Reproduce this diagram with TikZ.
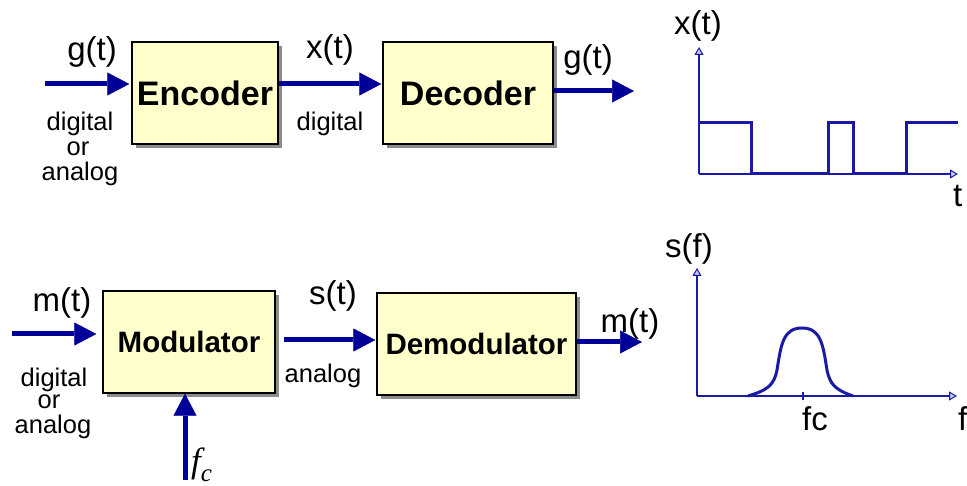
\documentclass[tikz,border=0pt]{standalone}
\usepackage{fontspec}
\setmainfont{Liberation Sans}
\newfontfamily\seriffont{Liberation Serif}
\usetikzlibrary{arrows.meta,shadows}
\definecolor{arrowblue}{RGB}{0,0,153}
\definecolor{plotblue}{RGB}{26,26,165}
\definecolor{tipfill}{RGB}{200,200,240}
\definecolor{boxfill}{RGB}{255,255,204}
\begin{document}
\begin{tikzpicture}[x=1pt,y=-1pt,
  blockbox/.style={draw=black, line width=1.4pt, fill=boxfill, inner sep=0pt,
    minimum height=102pt,
    drop shadow={shadow xshift=4pt, shadow yshift=-4pt, fill=black!45, opacity=1}},
  flow/.style={draw=arrowblue, line width=5pt,
    -{Triangle[length=22pt,width=23pt,line width=0.5pt]}},
  lbl/.style={inner sep=0pt, anchor=base, font=\fontsize{33}{33}\selectfont},
  small/.style={inner sep=0pt, anchor=base, font=\fontsize{25.5}{25.5}\selectfont},
  axisline/.style={draw=plotblue, line width=1.5pt,
    -{Triangle[length=8pt,width=9pt,fill=tipfill,line width=1pt]}},
  signal/.style={draw=plotblue, line width=3pt}
]
\useasboundingbox (0,0) rectangle (967,486);

% ---- blocks
\node[blockbox, minimum width=146pt, font=\fontsize{34}{34}\selectfont\bfseries] (enc) at (205,93) {\raisebox{-4pt}{Encoder}};
\node[blockbox, minimum width=170pt, font=\fontsize{34}{34}\selectfont\bfseries] (dec) at (468,93) {\raisebox{-4pt}{Decoder}};
\node[blockbox, minimum width=172pt, font=\fontsize{29.5}{29.5}\selectfont\bfseries] (mod) at (189,342) {\raisebox{-4pt}{Modulator}};
\node[blockbox, minimum width=199pt, font=\fontsize{29.5}{29.5}\selectfont\bfseries] (dem) at (476.5,344) {\raisebox{-4pt}{Demodulator}};

% ---- connectors top
\coordinate (gin) at (45,84);
\coordinate (gout) at (634,91);
\draw[flow, shorten >=2pt] (gin) -- (gin -| enc.west);
\draw[flow, shorten >=1pt] (enc.east |- gin) -- (dec.west |- gin);
\draw[flow] (dec.east |- gout) -- (gout);

% ---- connectors bottom
\coordinate (min) at (12,334);
\coordinate (sy) at (300,340);
\coordinate (mout) at (642,342);
\coordinate (fcin) at (185,480);
\draw[flow, shorten >=6pt] (min) -- (min -| mod.west);
\draw[flow, shorten <=8pt, shorten >=1pt] (mod.east |- sy) -- (dem.west |- sy);
\draw[flow] (dem.east |- mout) -- (mout);
\draw[flow] (fcin) -- (fcin |- mod.south);

% ---- labels top
\node[lbl] (lg1) at (92,61) {g(t)};
\node[lbl] (lx1) at (330,59) {x(t)};
\node[lbl] (lg2) at (588,69) {g(t)};
\node[small] (d1a) at (80,131) {digital};
\node[small] (d1b) at (78,156) {or};
\node[small] (d1c) at (80,181) {analog};
\node[small] (d2) at (330,131) {digital};

% ---- labels bottom
\node[lbl] (lm1) at (62,312) {m(t)};
\node[lbl] (ls) at (333,305) {s(t)};
\node[lbl] (lm2) at (630,333) {m(t)};
\node[small] (b1a) at (54,386) {digital};
\node[small] (b1b) at (49,409) {or};
\node[small] (b1c) at (53,433) {analog};
\node[small] (an) at (323,382) {analog};
\node[inner sep=0pt, anchor=base west, font=\fontsize{35}{35}\selectfont\seriffont\itshape] (fcl) at (191,472) {f\raisebox{-9pt}{\fontsize{25}{25}\selectfont c}};

% ---- graph 1
\coordinate (o1) at (699,174);
\coordinate (y1) at (699,47);
\coordinate (x1) at (958,174);
\draw[axisline] (o1) -- (y1);
\draw[axisline] (o1) -- (x1);
\draw[signal] (699,123) -- (751,123) -- (751,174) -- (828,174) -- (828,123) -- (853,123) -- (853,174) -- (906,174) -- (906,123) -- (958,123);
\node[lbl] (lxt) at (698,35) {x(t)};
\node[lbl, anchor=base west] (lt) at (953,207) {t};

% ---- graph 2
\coordinate (o2) at (697,396);
\coordinate (y2) at (697,268);
\coordinate (x2) at (957,396);
\draw[axisline] (o2) -- (y2);
\draw[axisline] (o2) -- (x2);
\draw[draw=plotblue, line width=1.5pt] (803,392) -- (803,400);
\draw[signal] (748,396) .. controls (768,390) and (774,385) .. (777,370)
  .. controls (781,345) and (783,328) .. (802,328)
  .. controls (821,328) and (823,345) .. (827,370)
  .. controls (830,385) and (836,390) .. (853,396);
\node[lbl] (lsf) at (689,258) {s(f)};
\node[lbl] (lfc) at (815,430) {fc};
\node[lbl, anchor=base west] (lf) at (958,430) {f};
\end{tikzpicture}
\end{document}
